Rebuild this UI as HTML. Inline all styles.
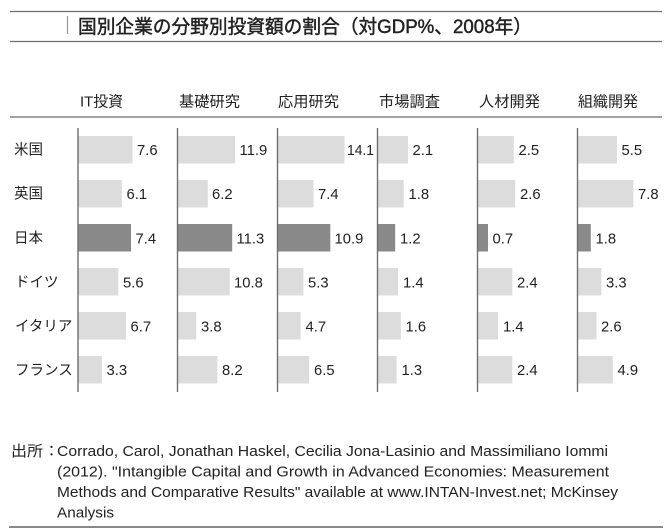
<!DOCTYPE html>
<html>
<head>
<meta charset="utf-8">
<style>
html,body{margin:0;padding:0;background:#fff;}
svg{display:block;}
text{font-family:"Liberation Sans","Noto Sans CJK JP",sans-serif;fill:#222;}
</style>
</head>
<body>
<svg width="670" height="531" viewBox="0 0 670 531" xmlns="http://www.w3.org/2000/svg">
<rect width="670" height="531" fill="#fff"/>
<!-- title -->
<line x1="10" y1="11.5" x2="662" y2="11.5" stroke="#6e6e6e" stroke-width="1.3"/>
<line x1="67.5" y1="16" x2="67.5" y2="34" stroke="#999" stroke-width="1.2"/>
<text x="78" y="33" font-size="19" stroke="#222" stroke-width="0.45" textLength="454" lengthAdjust="spacingAndGlyphs">国別企業の分野別投資額の割合（対GDP%、2008年）</text>
<line x1="10" y1="41.5" x2="662" y2="41.5" stroke="#6e6e6e" stroke-width="1.3"/>

<!-- headers -->
<g font-size="15">
<text x="80" y="106.5" textLength="43" lengthAdjust="spacingAndGlyphs">IT投資</text>
<text x="179" y="106.5" textLength="61" lengthAdjust="spacingAndGlyphs">基礎研究</text>
<text x="278" y="106.5" textLength="61" lengthAdjust="spacingAndGlyphs">応用研究</text>
<text x="379" y="106.5" textLength="61" lengthAdjust="spacingAndGlyphs">市場調査</text>
<text x="479" y="106.5" textLength="61" lengthAdjust="spacingAndGlyphs">人材開発</text>
<text x="578" y="106.5" textLength="60" lengthAdjust="spacingAndGlyphs">組織開発</text>
</g>
<line x1="10" y1="117" x2="662" y2="117" stroke="#6e6e6e" stroke-width="1.3"/>

<!-- row labels -->
<g font-size="14.5">
<text x="14" y="154.5">米国</text>
<text x="14" y="198.5">英国</text>
<text x="14" y="243">日本</text>
<text x="15" y="287">ドイツ</text>
<text x="15" y="331">イタリア</text>
<text x="15" y="375">フランス</text>
</g>

<!-- bars -->
<g id="bars">
<rect x="78.5" y="136" width="54" height="27.5" fill="#dcdcdc"/>
<rect x="78.5" y="180" width="43.3" height="27.5" fill="#dcdcdc"/>
<rect x="78.5" y="224" width="52.5" height="27.5" fill="#898989"/>
<rect x="78.5" y="268" width="39.8" height="27.5" fill="#dcdcdc"/>
<rect x="78.5" y="312" width="47.6" height="27.5" fill="#dcdcdc"/>
<rect x="78.5" y="356" width="23.4" height="27.5" fill="#dcdcdc"/>
<rect x="178" y="136" width="57.1" height="27.5" fill="#dcdcdc"/>
<rect x="178" y="180" width="29.8" height="27.5" fill="#dcdcdc"/>
<rect x="178" y="224" width="54.2" height="27.5" fill="#898989"/>
<rect x="178" y="268" width="51.8" height="27.5" fill="#dcdcdc"/>
<rect x="178" y="312" width="18.2" height="27.5" fill="#dcdcdc"/>
<rect x="178" y="356" width="39.4" height="27.5" fill="#dcdcdc"/>
<rect x="278" y="136" width="66.5" height="27.5" fill="#dcdcdc"/>
<rect x="278" y="180" width="35.5" height="27.5" fill="#dcdcdc"/>
<rect x="278" y="224" width="52.3" height="27.5" fill="#898989"/>
<rect x="278" y="268" width="25.4" height="27.5" fill="#dcdcdc"/>
<rect x="278" y="312" width="22.6" height="27.5" fill="#dcdcdc"/>
<rect x="278" y="356" width="31.2" height="27.5" fill="#dcdcdc"/>
<rect x="378" y="136" width="30" height="27.5" fill="#dcdcdc"/>
<rect x="378" y="180" width="25.7" height="27.5" fill="#dcdcdc"/>
<rect x="378" y="224" width="17.2" height="27.5" fill="#898989"/>
<rect x="378" y="268" width="20" height="27.5" fill="#dcdcdc"/>
<rect x="378" y="312" width="22.9" height="27.5" fill="#dcdcdc"/>
<rect x="378" y="356" width="18.6" height="27.5" fill="#dcdcdc"/>
<rect x="478" y="136" width="35.8" height="27.5" fill="#dcdcdc"/>
<rect x="478" y="180" width="37.2" height="27.5" fill="#dcdcdc"/>
<rect x="478" y="224" width="10" height="27.5" fill="#898989"/>
<rect x="478" y="268" width="34.3" height="27.5" fill="#dcdcdc"/>
<rect x="478" y="312" width="20" height="27.5" fill="#dcdcdc"/>
<rect x="478" y="356" width="34.3" height="27.5" fill="#dcdcdc"/>
<rect x="578" y="136" width="39" height="27.5" fill="#dcdcdc"/>
<rect x="578" y="180" width="55.4" height="27.5" fill="#dcdcdc"/>
<rect x="578" y="224" width="12.8" height="27.5" fill="#898989"/>
<rect x="578" y="268" width="23.4" height="27.5" fill="#dcdcdc"/>
<rect x="578" y="312" width="18.5" height="27.5" fill="#dcdcdc"/>
<rect x="578" y="356" width="34.8" height="27.5" fill="#dcdcdc"/>
</g>

<!-- axes -->
<g stroke="#6e6e6e" stroke-width="1.4">
<line x1="78" y1="128" x2="78" y2="392"/>
<line x1="177.5" y1="128" x2="177.5" y2="392"/>
<line x1="277.5" y1="128" x2="277.5" y2="392"/>
<line x1="377.5" y1="128" x2="377.5" y2="392"/>
<line x1="477.5" y1="128" x2="477.5" y2="392"/>
<line x1="577.5" y1="128" x2="577.5" y2="392"/>
</g>

<!-- value labels -->
<g font-size="14.8">
<text x="137" y="155">7.6</text>
<text x="126.5" y="199">6.1</text>
<text x="135.5" y="243.3">7.4</text>
<text x="123" y="287.3">5.6</text>
<text x="130.5" y="331.3">6.7</text>
<text x="106.5" y="375">3.3</text>
<text x="239.5" y="155">11.9</text>
<text x="212" y="199">6.2</text>
<text x="236.5" y="243.3">11.3</text>
<text x="234" y="287.3">10.8</text>
<text x="201" y="331.3">3.8</text>
<text x="222" y="375">8.2</text>
<text x="347" y="155" textLength="27" lengthAdjust="spacingAndGlyphs">14.1</text>
<text x="318" y="199">7.4</text>
<text x="334.5" y="243.3">10.9</text>
<text x="308" y="287.3">5.3</text>
<text x="305.5" y="331.3">4.7</text>
<text x="314" y="375">6.5</text>
<text x="412.5" y="155">2.1</text>
<text x="408.5" y="199">1.8</text>
<text x="400" y="243.3">1.2</text>
<text x="403" y="287.3">1.4</text>
<text x="405.5" y="331.3">1.6</text>
<text x="401.5" y="375">1.3</text>
<text x="518.5" y="155">2.5</text>
<text x="520" y="199">2.6</text>
<text x="492.5" y="243.3">0.7</text>
<text x="517" y="287.3">2.4</text>
<text x="503" y="331.3">1.4</text>
<text x="517" y="375">2.4</text>
<text x="621.5" y="155">5.5</text>
<text x="638" y="199">7.8</text>
<text x="595.5" y="243.3">1.8</text>
<text x="606" y="287.3">3.3</text>
<text x="601" y="331.3">2.6</text>
<text x="617.5" y="375">4.9</text>
</g>

<!-- footnote -->
<g font-size="15">
<text x="11" y="456" textLength="32" lengthAdjust="spacingAndGlyphs">出所</text>
<text x="44" y="456">：</text>
<text x="57" y="456" textLength="551" lengthAdjust="spacingAndGlyphs">Corrado, Carol, Jonathan Haskel, Cecilia Jona-Lasinio and Massimiliano Iommi</text>
<text x="57" y="476.5" textLength="552" lengthAdjust="spacingAndGlyphs">(2012). "Intangible Capital and Growth in Advanced Economies: Measurement</text>
<text x="57" y="497" textLength="561" lengthAdjust="spacingAndGlyphs">Methods and Comparative Results" available at www.INTAN-Invest.net; McKinsey</text>
<text x="57" y="517.5" textLength="57" lengthAdjust="spacingAndGlyphs">Analysis</text>
</g>
<line x1="9" y1="527" x2="663" y2="527" stroke="#888" stroke-width="2"/>
</svg>
</body>
</html>
